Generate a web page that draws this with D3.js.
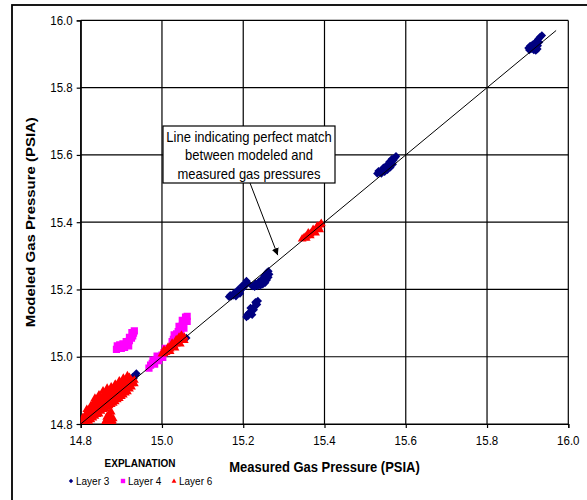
<!DOCTYPE html>
<html>
<head>
<meta charset="utf-8">
<script src="https://cdnjs.cloudflare.com/ajax/libs/d3/7.8.5/d3.min.js"></script>
<style>
  body { margin: 0; background: #fff; }
  svg { font-family: Arial, "Liberation Sans", sans-serif; }
</style>
</head>
<body>
<svg></svg>
<script>
const WIDTH = 587;
const HEIGHT = 500;

// axis ticks (PSIA)
const xTicks = [14.8, 15.0, 15.2, 15.4, 15.6, 15.8, 16.0];
const yTicks = [14.8, 15.0, 15.2, 15.4, 15.6, 15.8, 16.0];

// [measured, modeled] pairs
const layer3 = [
  [15.935, 15.955], [15.930, 15.950], [15.926, 15.944], [15.922, 15.938], [15.918, 15.932],
  [15.912, 15.928], [15.906, 15.924], [15.902, 15.918], [15.908, 15.915], [15.915, 15.912],
  [15.920, 15.910], [15.924, 15.915], [15.918, 15.920], [15.912, 15.920], [15.904, 15.912],
  [15.925, 15.925], [15.928, 15.935],
  [15.530, 15.545], [15.535, 15.548], [15.540, 15.552], [15.545, 15.555], [15.550, 15.560],
  [15.555, 15.565], [15.560, 15.570], [15.565, 15.578], [15.570, 15.585], [15.574, 15.592],
  [15.576, 15.596], [15.548, 15.550], [15.555, 15.556], [15.562, 15.563], [15.568, 15.572],
  [15.540, 15.545], [15.533, 15.552], [15.552, 15.568], [15.560, 15.580], [15.545, 15.562],
  [15.566, 15.588],
  [15.165, 15.178], [15.170, 15.180], [15.175, 15.182], [15.180, 15.186], [15.185, 15.190],
  [15.190, 15.195], [15.195, 15.200], [15.200, 15.206], [15.205, 15.212], [15.210, 15.220],
  [15.208, 15.225], [15.198, 15.212], [15.188, 15.200], [15.178, 15.190], [15.168, 15.183],
  [15.182, 15.180], [15.192, 15.188],
  [15.222, 15.210], [15.228, 15.208], [15.235, 15.210], [15.242, 15.212], [15.248, 15.215],
  [15.254, 15.220], [15.258, 15.228], [15.262, 15.236], [15.264, 15.245], [15.262, 15.254],
  [15.258, 15.250], [15.252, 15.240], [15.245, 15.230], [15.238, 15.222], [15.230, 15.218],
  [15.250, 15.228], [15.242, 15.220],
  [15.208, 15.118], [15.212, 15.122], [15.216, 15.128], [15.220, 15.135], [15.224, 15.142],
  [15.228, 15.150], [15.232, 15.158], [15.236, 15.166], [15.214, 15.130], [15.222, 15.125],
  [15.226, 15.140], [15.230, 15.162], [15.218, 15.145], [15.210, 15.125], [15.234, 15.155],
  [14.925, 14.925], [14.930, 14.935], [14.935, 14.945], [14.937, 14.950], [14.928, 14.940],
  [15.060, 15.056]
];

const layer4 = [
  [14.888, 15.022], [14.892, 15.028], [14.896, 15.026], [14.900, 15.025], [14.905, 15.030],
  [14.910, 15.035], [14.915, 15.040], [14.920, 15.048], [14.925, 15.055], [14.928, 15.062],
  [14.930, 15.070], [14.932, 15.077], [14.926, 15.072], [14.920, 15.058], [14.912, 15.045],
  [14.904, 15.038], [14.896, 15.035], [14.890, 15.032], [14.918, 15.032], [14.908, 15.028],
  [15.025, 15.045], [15.028, 15.052], [15.032, 15.060], [15.036, 15.068], [15.040, 15.075],
  [15.044, 15.082], [15.048, 15.090], [15.052, 15.098], [15.056, 15.106], [15.060, 15.114],
  [15.062, 15.120], [15.058, 15.118], [15.062, 15.105], [15.054, 15.085], [15.046, 15.070],
  [15.038, 15.060], [15.030, 15.065], [15.042, 15.090], [15.050, 15.108],
  [14.968, 14.966], [14.972, 14.975], [14.976, 14.980], [14.980, 14.985], [14.985, 14.990],
  [14.990, 14.995], [14.995, 15.000], [15.000, 15.005], [15.005, 15.012], [15.010, 15.018],
  [14.982, 14.978], [14.992, 14.988], [15.002, 14.998], [14.978, 14.990], [14.988, 15.002],
  [15.008, 15.025]
];

const layer6 = [
  [14.805, 14.800], [14.805, 14.810], [14.805, 14.820],
  [14.815, 14.805], [14.815, 14.818], [14.815, 14.832], [14.815, 14.845],
  [14.825, 14.815], [14.825, 14.828], [14.825, 14.842], [14.825, 14.856],
  [14.835, 14.825], [14.835, 14.838], [14.835, 14.852], [14.835, 14.866], [14.835, 14.878],
  [14.845, 14.832], [14.845, 14.846], [14.845, 14.860], [14.845, 14.874], [14.845, 14.888],
  [14.855, 14.845], [14.855, 14.858], [14.855, 14.872], [14.855, 14.886], [14.855, 14.900],
  [14.865, 14.852], [14.865, 14.866], [14.865, 14.880], [14.865, 14.894], [14.865, 14.908],
  [14.875, 14.860], [14.875, 14.874], [14.875, 14.888], [14.875, 14.902], [14.875, 14.912],
  [14.885, 14.868], [14.885, 14.882], [14.885, 14.896], [14.885, 14.910], [14.885, 14.920],
  [14.895, 14.878], [14.895, 14.892], [14.895, 14.906], [14.895, 14.920], [14.895, 14.930],
  [14.905, 14.888], [14.905, 14.900], [14.905, 14.914], [14.905, 14.928], [14.905, 14.938],
  [14.915, 14.898], [14.915, 14.910], [14.915, 14.922], [14.915, 14.935], [14.915, 14.945],
  [14.925, 14.912], [14.925, 14.922], [14.925, 14.932], [14.932, 14.922], [14.932, 14.932],
  [14.810, 14.812], [14.810, 14.826], [14.820, 14.810], [14.820, 14.824], [14.820, 14.838],
  [14.830, 14.820], [14.830, 14.834], [14.830, 14.848], [14.830, 14.862], [14.840, 14.830],
  [14.840, 14.844], [14.840, 14.858], [14.840, 14.872], [14.850, 14.840], [14.850, 14.854],
  [14.850, 14.868], [14.850, 14.882], [14.860, 14.848], [14.860, 14.862], [14.860, 14.876],
  [14.860, 14.890], [14.870, 14.856], [14.870, 14.870], [14.870, 14.884], [14.870, 14.898],
  [14.880, 14.864], [14.880, 14.878], [14.880, 14.892], [14.880, 14.906], [14.890, 14.874],
  [14.890, 14.888], [14.890, 14.902], [14.890, 14.916], [14.900, 14.884], [14.900, 14.898],
  [14.900, 14.912], [14.900, 14.924], [14.910, 14.894], [14.910, 14.906], [14.910, 14.920],
  [14.910, 14.932], [14.920, 14.906], [14.920, 14.918], [14.920, 14.930], [14.920, 14.940],
  [14.858, 14.802], [14.865, 14.802], [14.872, 14.802], [14.880, 14.802], [14.862, 14.812],
  [14.870, 14.812], [14.878, 14.812], [14.864, 14.822], [14.872, 14.824], [14.880, 14.818],
  [14.870, 14.834], [14.875, 14.838],
  [15.000, 15.010], [15.005, 15.012], [15.010, 15.015], [15.015, 15.020], [15.020, 15.025],
  [15.025, 15.030], [15.030, 15.035], [15.035, 15.040], [15.040, 15.045], [15.045, 15.050],
  [15.050, 15.056], [15.055, 15.060], [15.005, 15.022], [15.015, 15.030], [15.025, 15.042],
  [15.035, 15.052], [15.042, 15.060], [15.048, 15.066], [15.020, 15.018], [15.032, 15.028],
  [15.045, 15.040], [15.055, 15.050],
  [15.345, 15.352], [15.350, 15.356], [15.355, 15.360], [15.360, 15.364], [15.365, 15.368],
  [15.370, 15.372], [15.375, 15.376], [15.380, 15.382], [15.385, 15.388], [15.390, 15.394],
  [15.392, 15.398], [15.355, 15.354], [15.365, 15.362], [15.378, 15.370], [15.388, 15.380],
  [15.360, 15.370], [15.372, 15.380], [15.382, 15.390]
];

// perfect match line ends
const matchLine = [[14.8, 14.8], [15.97, 15.97]];

const series = [
  {name: 'Layer 3', data: layer3, color: '#000080', shape: 'diamond'},
  {name: 'Layer 4', data: layer4, color: '#ff00ff', shape: 'square'},
  {name: 'Layer 6', data: layer6, color: '#ff0000', shape: 'triangle'}
];

const STRETCH = 1.15; // text in the original is drawn a bit taller than wide

const svg = d3.select('svg').attr('width', WIDTH).attr('height', HEIGHT);

const x = d3.scaleLinear().domain([14.8, 16.0]).range([80.7, 568.3]);
const y = d3.scaleLinear().domain([14.8, 16.0]).range([424, 20.4]);
const fmt = d3.format('.1f');

function marker(shape, s) {
  if (shape === 'diamond') return `M0,${-s}L${s},0L0,${s}L${-s},0Z`;
  if (shape === 'square') return `M${-s},${-s}H${s}V${s}H${-s}Z`;
  return `M0,${-s * 1.1}L${s * 1.1},${s * 0.8}L${-s * 1.1},${s * 0.8}Z`;
}

// outer frame
svg.append('rect')
  .attr('x', 12).attr('y', 5).attr('width', 620).attr('height', 620)
  .attr('fill', 'none').attr('stroke', '#000').attr('stroke-width', 1.8);

// gridlines
svg.append('g')
  .selectAll('line')
  .data(xTicks)
  .join('line')
  .attr('x1', d => x(d)).attr('x2', d => x(d))
  .attr('y1', y(14.8)).attr('y2', y(16.0))
  .attr('stroke', '#000').attr('stroke-width', 1.2);

svg.append('g')
  .selectAll('line')
  .data(yTicks)
  .join('line')
  .attr('x1', x(14.8)).attr('x2', x(16.0))
  .attr('y1', d => y(d)).attr('y2', d => y(d))
  .attr('stroke', '#000').attr('stroke-width', 1.2);

// axes
const xAxis = svg.append('g')
  .attr('transform', `translate(0,${y(14.8)})`)
  .call(d3.axisBottom(x).tickValues(xTicks).tickSize(4).tickFormat(''));
const yAxis = svg.append('g')
  .attr('transform', `translate(${x(14.8)},0)`)
  .call(d3.axisLeft(y).tickValues(yTicks).tickSize(4).tickFormat(''));
[xAxis, yAxis].forEach(a => {
  a.select('.domain').attr('stroke', '#000').attr('stroke-width', 1.2);
  a.selectAll('.tick line').attr('stroke', '#000').attr('stroke-width', 1.2);
});

// tick labels
svg.append('g')
  .selectAll('text')
  .data(xTicks)
  .join('text')
  .attr('transform', d => `translate(${x(d)},${y(14.8) + 21}) scale(1,${STRETCH})`)
  .attr('text-anchor', 'middle')
  .attr('font-size', 11.5)
  .text(fmt);

svg.append('g')
  .selectAll('text')
  .data(yTicks)
  .join('text')
  .attr('transform', d => `translate(${x(14.8) - 8},${y(d) + 4.5}) scale(1,${STRETCH})`)
  .attr('text-anchor', 'end')
  .attr('font-size', 11.5)
  .text(fmt);

// points
const plot = svg.append('g');
plot.append('clipPath').attr('id', 'clip')
  .append('rect')
  .attr('x', x(14.8)).attr('y', y(16.0))
  .attr('width', x(16.0) - x(14.8)).attr('height', y(14.8) - y(16.0));
const pts = plot.append('g').attr('clip-path', 'url(#clip)');

const markerSize = {diamond: 4.2, square: 3.6, triangle: 4};
series.forEach(s => {
  pts.append('g')
    .selectAll('path')
    .data(s.data)
    .join('path')
    .attr('transform', d => `translate(${x(d[0])},${y(d[1])})`)
    .attr('d', marker(s.shape, markerSize[s.shape]))
    .attr('fill', s.color);
});

// 1:1 line
svg.append('line')
  .attr('x1', x(matchLine[0][0])).attr('y1', y(matchLine[0][1]))
  .attr('x2', x(matchLine[1][0])).attr('y2', y(matchLine[1][1]))
  .attr('stroke', '#000').attr('stroke-width', 1);

// annotation box + arrow
const box = svg.append('g');
box.append('rect')
  .attr('x', 163).attr('y', 126).attr('width', 172).attr('height', 57)
  .attr('fill', '#fff').attr('stroke', '#000').attr('stroke-width', 1.2);
const noteLines = ['Line indicating perfect match', 'between modeled and', 'measured gas pressures'];
box.selectAll('text')
  .data(noteLines)
  .join('text')
  .attr('transform', (d, i) => `translate(249,${142 + i * 18.4}) scale(1,${STRETCH})`)
  .attr('text-anchor', 'middle')
  .attr('font-size', 13)
  .text(d => d);

svg.append('defs').append('marker')
  .attr('id', 'arrow')
  .attr('viewBox', '0 0 10 10')
  .attr('refX', 10).attr('refY', 5)
  .attr('markerWidth', 7).attr('markerHeight', 7)
  .attr('markerUnits', 'userSpaceOnUse')
  .attr('orient', 'auto')
  .append('path').attr('d', 'M0,0L10,5L0,10Z').attr('fill', '#000');

svg.append('line')
  .attr('x1', 250).attr('y1', 183)
  .attr('x2', x(15.285)).attr('y2', y(15.302))
  .attr('stroke', '#000').attr('stroke-width', 1)
  .attr('marker-end', 'url(#arrow)');

// axis titles
svg.append('text')
  .attr('transform', `translate(${(x(14.8) + x(16.0)) / 2},472) scale(1,${STRETCH})`)
  .attr('text-anchor', 'middle')
  .attr('font-size', 13).attr('font-weight', 'bold')
  .text('Measured Gas Pressure (PSIA)');

svg.append('text')
  .attr('transform', `translate(35,${(y(14.8) + y(16.0)) / 2}) rotate(-90) scale(${STRETCH},1)`)
  .attr('text-anchor', 'middle')
  .attr('font-size', 13).attr('font-weight', 'bold')
  .text('Modeled Gas Pressure (PSIA)');

// legend
svg.append('text')
  .attr('transform', `translate(140,466.5) scale(1,${STRETCH})`)
  .attr('text-anchor', 'middle')
  .attr('font-size', 10).attr('font-weight', 'bold')
  .text('EXPLANATION');

const legendX = [71, 123, 174];
const legend = svg.append('g')
  .selectAll('g')
  .data(series)
  .join('g')
  .attr('transform', (d, i) => `translate(${legendX[i]},481)`);
legend.append('path')
  .attr('d', d => marker(d.shape, 2.2))
  .attr('fill', d => d.color);
legend.append('text')
  .attr('transform', `translate(5,4) scale(1,${STRETCH})`)
  .attr('font-size', 10)
  .text(d => d.name);
</script>
</body>
</html>
